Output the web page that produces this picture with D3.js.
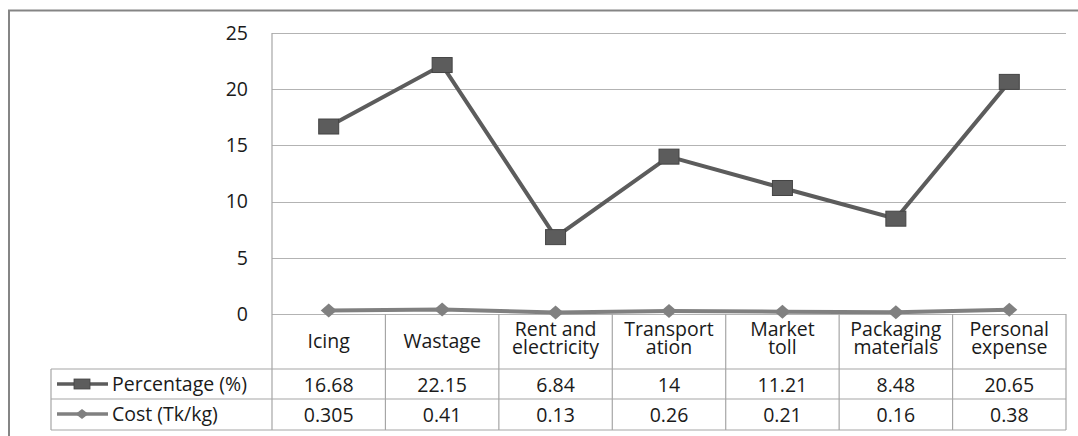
<!DOCTYPE html>
<html lang="en">
<head>
  <meta charset="utf-8">
  <title>Percentage and cost</title>
  <script src="https://d3js.org/d3.v7.min.js"></script>
  <style>
    body { margin: 0; background: #fff; }
    text { font-family: "Open Sans", "Liberation Sans", sans-serif; fill: #1a1a1a; }
  </style>
</head>
<body>
  <div id="chart"></div>
  <script>
    "use strict"
    // dados
    var categorias = [["Icing"], ["Wastage"], ["Rent and", "electricity"], ["Transport", "ation"],
                      ["Market", "toll"], ["Packaging", "materials"], ["Personal", "expense"]];
    var percentagem = [16.68, 22.15, 6.84, 14, 11.21, 8.48, 20.65];
    var custo = [0.305, 0.41, 0.13, 0.26, 0.21, 0.16, 0.38];
    var rotulosCusto = ["0.305", "0.41", "0.13", "0.26", "0.21", "0.16", "0.38"];
    var ticksY = [0, 5, 10, 15, 20, 25];
    var nomesSeries = ["Percentage (%)", "Cost (Tk/kg)"];

    var largura = 1078, altura = 436;
    var esq = 272, dir = 1066, topo = 33, base = 314;
    var linhaCat = 369, linha1 = 399, linha2 = 430, tabelaEsq = 51;
    var fonte = '19.5px';

    var svg = d3.select('#chart').append('svg')
      .attr('width', largura).attr('height', altura);

    // moldura externa
    svg.append('path')
      .attr('d', 'M9,' + altura + ' V10.5 H' + largura)
      .attr('fill', 'none').attr('stroke', '#858585').attr('stroke-width', 2);

    var x = d3.scaleBand().domain(d3.range(categorias.length)).range([esq, dir]);
    var y = d3.scaleLinear().domain([0, 25]).range([base, topo]);

    // grade
    svg.append('g').selectAll('line').data(ticksY).enter().append('line')
      .attr('x1', esq).attr('x2', dir)
      .attr('y1', d => Math.round(y(d)) + 0.5).attr('y2', d => Math.round(y(d)) + 0.5)
      .attr('stroke', '#b3b3b3').attr('stroke-width', 1.2);

    // eixo y
    var eixoY = svg.append('g')
      .attr('transform', 'translate(' + esq + ',0)')
      .call(d3.axisLeft(y).tickValues(ticksY).tickSize(0).tickPadding(24));
    eixoY.select('.domain').remove();
    eixoY.selectAll('text').style('font-size', fonte)
      .style('font-family', '"Open Sans", sans-serif').attr('fill', '#1a1a1a');

    // tabela
    var tab = svg.append('g').attr('stroke', '#a6a6a6').attr('stroke-width', 1.2);
    tab.append('line').attr('x1', esq).attr('x2', esq).attr('y1', topo).attr('y2', linha2);
    tab.selectAll('.sep').data(d3.range(1, categorias.length + 1)).enter().append('line')
      .attr('x1', d => x(d - 1) + x.bandwidth()).attr('x2', d => x(d - 1) + x.bandwidth())
      .attr('y1', base).attr('y2', linha2);
    tab.selectAll('.hor').data([linhaCat, linha1, linha2]).enter().append('line')
      .attr('x1', tabelaEsq).attr('x2', dir).attr('y1', d => d).attr('y2', d => d);
    tab.append('line').attr('x1', tabelaEsq).attr('x2', tabelaEsq).attr('y1', linhaCat).attr('y2', linha2);

    // rotulos das categorias
    var cat = svg.append('g').selectAll('text').data(categorias).enter().append('text')
      .attr('text-anchor', 'middle').style('font-size', fonte)
      .attr('x', (d, i) => x(i) + x.bandwidth() / 2)
      .attr('y', d => d.length == 1 ? 348 : 335.5);
    cat.selectAll('tspan').data(d => d).enter().append('tspan')
      .attr('x', function () { return this.parentNode.getAttribute('x'); })
      .attr('dy', (d, i) => i == 0 ? 0 : 18)
      .text(d => d);

    // valores
    var linhasTab = [percentagem.map(String), rotulosCusto];
    var yTexto = [392, 422];
    linhasTab.forEach(function (vals, r) {
      svg.append('g').selectAll('text').data(vals).enter().append('text')
        .attr('text-anchor', 'middle').style('font-size', fonte)
        .attr('x', (d, i) => x(i) + x.bandwidth() / 2)
        .attr('y', yTexto[r]).text(d => d);
    });

    // legenda
    var corP = '#5c5c5c', bordaP = '#444', corC = '#808080';
    nomesSeries.forEach(function (nome, r) {
      var cy = r == 0 ? 384 : 414;
      var g = svg.append('g');
      g.append('line').attr('x1', 57).attr('x2', 108).attr('y1', cy).attr('y2', cy)
        .attr('stroke', r == 0 ? corP : corC).attr('stroke-width', 3.5);
      if (r == 0) {
        g.append('rect').attr('x', 74).attr('y', cy - 5).attr('width', 16).attr('height', 10)
          .attr('fill', corP).attr('stroke', bordaP).attr('stroke-width', 0.8);
      } else {
        g.append('path').attr('d', 'M82,' + (cy - 5) + ' l6.5,5 l-6.5,5 l-6.5,-5 Z').attr('fill', corC);
      }
      g.append('text').attr('x', 112).attr('y', cy + 7).style('font-size', fonte).text(nome);
    });

    // series
    var cx = (d, i) => x(i) + x.bandwidth() / 2;
    var linha = d3.line().x(cx).y(d => y(d));

    svg.append('path').datum(custo).attr('d', linha)
      .attr('fill', 'none').attr('stroke', corC).attr('stroke-width', 4);
    svg.append('g').selectAll('path').data(custo).enter().append('path')
      .attr('d', (d, i) => 'M' + cx(d, i) + ',' + (y(d) - 7) + ' l8,7 l-8,7 l-8,-7 Z')
      .attr('fill', corC);

    svg.append('path').datum(percentagem).attr('d', linha)
      .attr('fill', 'none').attr('stroke', corP).attr('stroke-width', 4);
    svg.append('g').selectAll('rect').data(percentagem).enter().append('rect')
      .attr('x', (d, i) => cx(d, i) - 10).attr('y', d => y(d) - 7.5)
      .attr('width', 20).attr('height', 15)
      .attr('fill', corP).attr('stroke', bordaP).attr('stroke-width', 1);
  </script>
</body>
</html>
